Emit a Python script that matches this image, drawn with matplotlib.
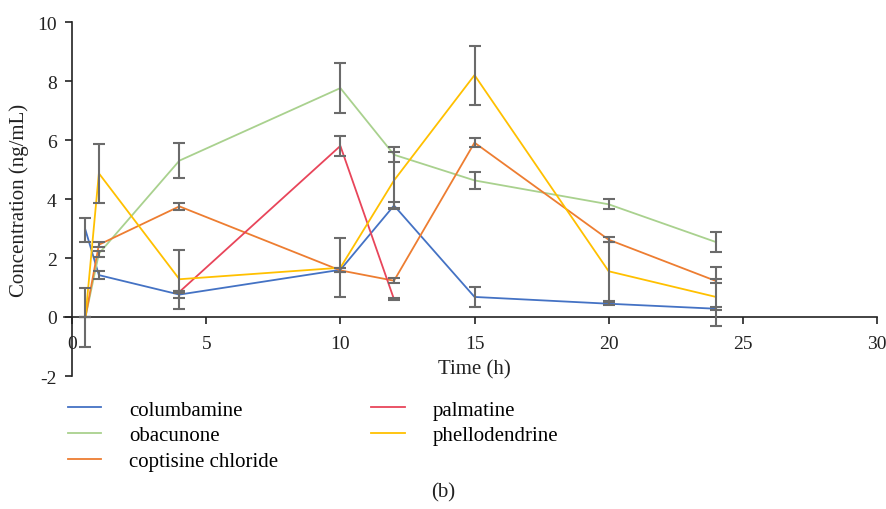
import numpy as np
import matplotlib
matplotlib.use("Agg")
import matplotlib.pyplot as plt

plt.rcParams['font.family'] = ['Liberation Serif', 'DejaVu Serif']
plt.rcParams['axes.unicode_minus'] = False

# sampling times (h)
times = [0.5, 1, 4, 10, 12, 15, 20, 24]
palm_times = [4, 10, 12]

# mean concentration (ng/mL) and error
columbamine = [2.95, 1.42, 0.76, 1.60, 3.78, 0.68, 0.45, 0.28]
columbamine_err = [0.42, 0.14, 0.12, 0.07, 0.12, 0.33, 0.05, 0.05]

obacunone = [0, 2.15, 5.30, 7.76, 5.50, 4.63, 3.82, 2.54]
obacunone_err = [0, 0.10, 0.60, 0.85, 0.26, 0.30, 0.17, 0.34]

coptisine = [0, 2.45, 3.75, 1.58, 1.23, 5.91, 2.62, 1.22]
coptisine_err = [0, 0.08, 0.12, 0.07, 0.08, 0.15, 0.09, 0.08]

palmatine = [0.85, 5.80, 0.60]
palmatine_err = [0.03, 0.35, 0.03]

phellodendrine = [0, 4.87, 1.28, 1.67, 4.63, 8.20, 1.55, 0.68]
phellodendrine_err = [1.0, 1.0, 1.0, 1.0, 0.95, 1.0, 1.0, 1.0]

series = [
    ("columbamine", times, columbamine, columbamine_err, "#4472C4"),
    ("obacunone", times, obacunone, obacunone_err, "#A9D18E"),
    ("coptisine chloride", times, coptisine, coptisine_err, "#ED7D31"),
    ("palmatine", palm_times, palmatine, palmatine_err, "#E8455A"),
    ("phellodendrine", times, phellodendrine, phellodendrine_err, "#FFC000"),
]

fig = plt.figure(figsize=(8.87, 5.10), dpi=100)
ax = fig.add_axes([64 / 887, 1 - 377 / 510, 813 / 887, 354 / 510])

handles = []
for name, t, y, e, c in series:
    h, = ax.plot(t, y, color=c, lw=1.3, label=name, zorder=2)
    handles.append(h)
    ax.errorbar(t, y, yerr=e, fmt='none', ecolor='#6b6b6b', elinewidth=1.5,
                capsize=4, capthick=1.5, zorder=3)

ax.set_xlim(-0.3, 30)
ax.set_ylim(-2, 10)
ax.set_xticks(np.arange(0, 31, 5))
ax.set_yticks(np.arange(-2, 11, 2))

ax.spines['top'].set_visible(False)
ax.spines['right'].set_visible(False)
ax.spines['left'].set_position(('data', 0))
ax.spines['bottom'].set_position(('data', 0))
for s in ['left', 'bottom']:
    ax.spines[s].set_color('#222222')
    ax.spines[s].set_linewidth(1.2)
ax.tick_params(axis='both', direction='out', length=5, width=1.2,
               colors='#222222', labelsize=14)
ax.tick_params(axis='x', pad=8)
ax.tick_params(axis='y', pad=6)

ax.set_ylabel("Concentration (ng/mL)", fontsize=15, color='#222222', va='center')
ax.yaxis.set_label_coords(-0.055, 0.5)
ax.text(15, -1.76, "Time (h)", ha='center', va='center', fontsize=15,
        color='#222222')

fig.legend(handles=handles, loc='upper left', bbox_to_anchor=(68 / 887, 1 - 401 / 510),
           ncol=2, frameon=False, fontsize=15, handlelength=1.6,
           handletextpad=1.35, columnspacing=4.45, labelspacing=0.3,
           borderpad=0, borderaxespad=0)

fig.text(443 / 887, 1 - 493 / 510, "(b)", ha='center', va='center',
         fontsize=15, color='#222222')

fig.savefig("out.png", dpi=100)
